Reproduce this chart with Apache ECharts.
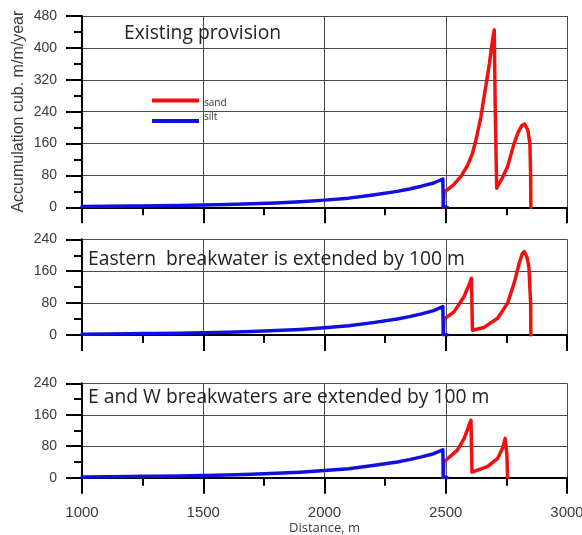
<!DOCTYPE html>
<html>
<head>
<meta charset="utf-8">
<script src="https://cdn.jsdelivr.net/npm/echarts@6/dist/echarts.min.js"></script>
<style>
  html, body { margin: 0; padding: 0; background: #fff; }
  #chart { width: 582px; height: 535px; }
</style>
</head>
<body>
<div id="chart"></div>
<script>
// Distance axis (m) shared by all three panels
const distanceRange = [1000, 3000];
const distanceStep = 500;

// Accumulation axis maximum for each panel (cub. m/m/year)
const accumulationMax = [480, 240, 240];
const accumulationStep = 80;

// Panel captions
const panelTitles = [
  'Existing provision',
  'Eastern  breakwater is extended by 100 m',
  'E and W breakwaters are extended by 100 m'
];

// Silt accumulation along the shore [distance, value] (same in all scenarios)
const silt = [
  [1000, 2], [1100, 2.5], [1200, 3], [1250, 3.5], [1300, 4], [1400, 4.5],
  [1500, 5.5], [1600, 7], [1700, 9], [1800, 11], [1900, 14], [2000, 18],
  [2100, 23], [2200, 31], [2300, 40], [2350, 46], [2400, 53], [2450, 61],
  [2488, 71], [2490, 3], [2492, 0], [2506, 0]
];

// Sand accumulation, existing provision
const sandExisting = [
  [2490, 0], [2493, 38], [2500, 42], [2530, 55], [2562, 77], [2590, 105],
  [2610, 135], [2625, 170], [2645, 227], [2665, 303], [2680, 360],
  [2693, 420], [2700, 445], [2704, 250], [2710, 48], [2730, 70],
  [2755, 102], [2782, 161], [2800, 190], [2815, 206], [2825, 209],
  [2838, 195], [2847, 160], [2850, 80], [2851, 0]
];

// Sand accumulation, eastern breakwater extended by 100 m
const sandEastern = [
  [2490, 0], [2493, 40], [2500, 44], [2534, 58], [2575, 96], [2600, 132],
  [2606, 142], [2610, 12], [2658, 19], [2714, 42], [2755, 80], [2782, 130],
  [2803, 180], [2815, 203], [2824, 209], [2835, 195], [2843, 170],
  [2850, 80], [2851, 0]
];

// Sand accumulation, both breakwaters extended by 100 m
const sandBoth = [
  [2490, 0], [2492, 40], [2500, 45], [2548, 70], [2576, 100], [2600, 140],
  [2604, 146], [2608, 14], [2672, 28], [2714, 49], [2734, 75], [2745, 100],
  [2749, 104], [2752, 60], [2755, 0]
];

const sandSets = [sandExisting, sandEastern, sandBoth];

const SAND_COLOR = '#f01010';
const SILT_COLOR = '#1010e0';
const GRID_COLOR = '#4a4a4a';
const LABEL_COLOR = '#3a3a3a';

const grids = [
  { left: 82, top: 16, width: 485, height: 191.3 },
  { left: 82, top: 239.3, width: 485, height: 95.7 },
  { left: 82, top: 383.3, width: 485, height: 94.4 }
].map(g => Object.assign({ outerBoundsMode: 'none', containLabel: false }, g));

const xAxes = grids.map((g, i) => ({
  type: 'value',
  gridIndex: i,
  min: distanceRange[0],
  max: distanceRange[1],
  interval: distanceStep,
  axisLine: { onZero: false, lineStyle: { color: '#000', width: 2 } },
  axisTick: { show: true, inside: false, length: 16, lineStyle: { color: '#000', width: 2 } },
  minorTick: { show: true, splitNumber: 2, length: 8, lineStyle: { color: '#000', width: 2 } },
  splitLine: { show: true, lineStyle: { color: GRID_COLOR, width: 1 } },
  axisLabel: {
    show: i === 2,
    margin: 28,
    formatter: v => String(v),
    fontFamily: 'Liberation Sans, Arial, sans-serif',
    fontSize: 15,
    color: LABEL_COLOR
  },
  name: i === 2 ? 'Distance, m' : '',
  nameLocation: 'middle',
  nameGap: 41,
  nameTextStyle: {
    fontFamily: 'Open Sans, sans-serif',
    fontSize: 13,
    color: LABEL_COLOR
  }
}));

const yAxes = grids.map((g, i) => ({
  type: 'value',
  gridIndex: i,
  min: 0,
  max: accumulationMax[i],
  interval: accumulationStep,
  axisLine: { show: true, lineStyle: { color: '#000', width: 2 } },
  axisTick: { show: true, inside: false, length: 16, lineStyle: { color: '#000', width: 2 } },
  minorTick: { show: true, splitNumber: 2, length: 8, lineStyle: { color: '#000', width: 2 } },
  splitLine: { show: true, lineStyle: { color: GRID_COLOR, width: 1 } },
  axisLabel: {
    margin: 25,
    formatter: v => String(v),
    fontFamily: 'Liberation Sans, Arial, sans-serif',
    fontSize: 14,
    color: LABEL_COLOR
  },
  name: i === 0 ? 'Accumulation cub. m/m/year' : '',
  nameLocation: 'middle',
  nameRotate: 90,
  nameGap: 55,
  nameMoveOverlap: false,
  nameTextStyle: {
    fontFamily: 'Liberation Sans, Arial, sans-serif',
    fontSize: 16,
    color: LABEL_COLOR
  }
}));

const series = [];
sandSets.forEach((sand, i) => {
  series.push({
    name: 'sand',
    type: 'line',
    xAxisIndex: i,
    yAxisIndex: i,
    data: sand,
    showSymbol: false,
    symbol: 'none',
    lineStyle: { color: SAND_COLOR, width: 3.5, cap: 'round', join: 'round' },
    itemStyle: { color: SAND_COLOR },
    z: 3,
    animation: false
  });
  series.push({
    name: 'silt',
    type: 'line',
    xAxisIndex: i,
    yAxisIndex: i,
    data: silt,
    showSymbol: false,
    symbol: 'none',
    lineStyle: { color: SILT_COLOR, width: 3.5, cap: 'round', join: 'round' },
    itemStyle: { color: SILT_COLOR },
    z: 4,
    animation: false
  });
});

const titlePositions = [
  { left: 124, top: 24 },
  { left: 88, top: 250 },
  { left: 88, top: 388 }
];

const titles = panelTitles.map((t, i) => ({
  text: t,
  left: titlePositions[i].left,
  top: titlePositions[i].top,
  padding: 0,
  textStyle: {
    fontFamily: 'Open Sans, sans-serif',
    fontSize: 19.3,
    fontWeight: 'normal',
    color: '#222'
  }
}));

const legendBase = {
  orient: 'vertical',
  left: 152,
  padding: 0,
  icon: 'rect',
  itemWidth: 47,
  itemHeight: 4,
  selectedMode: false,
  textStyle: {
    fontFamily: 'Open Sans, sans-serif',
    fontSize: 10,
    color: '#333',
    rich: {
      low: { fontFamily: 'Open Sans, sans-serif', fontSize: 10, color: '#333', padding: [5, 0, 0, 0] },
      high: { fontFamily: 'Open Sans, sans-serif', fontSize: 10, color: '#333', padding: [0, 0, 8, 0] }
    }
  }
};

const chart = echarts.init(document.getElementById('chart'), null, { renderer: 'canvas' });
chart.setOption({
  animation: false,
  backgroundColor: '#fff',
  title: titles,
  legend: [
    Object.assign({}, legendBase, {
      top: 98,
      data: ['sand'],
      formatter: name => '{low|' + name + '}'
    }),
    Object.assign({}, legendBase, {
      top: 112,
      data: ['silt'],
      formatter: name => '{high|' + name + '}'
    })
  ],
  grid: grids,
  xAxis: xAxes,
  yAxis: yAxes,
  series: series
});
</script>
</body>
</html>
